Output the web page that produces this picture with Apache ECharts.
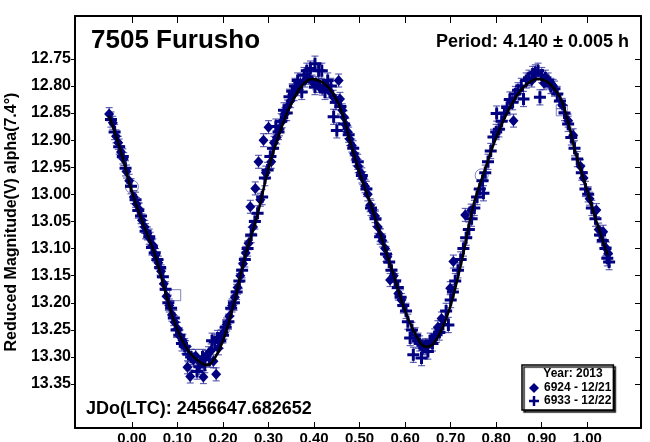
<!DOCTYPE html>
<html>
<head>
<meta charset="utf-8">
<script src="https://cdn.jsdelivr.net/npm/echarts@6/dist/echarts.min.js"></script>
<style>html,body{margin:0;padding:0;background:#fff;}#chart{width:650px;height:442px;}</style>
</head>
<body>
<div id="chart"></div>
<script>
// ---- data (phase, reduced magnitude) ----
const xTicks = [0.00, 0.10, 0.20, 0.30, 0.40, 0.50, 0.60, 0.70, 0.80, 0.90, 1.00];
const yTicks = [12.75, 12.80, 12.85, 12.90, 12.95, 13.00, 13.05, 13.10, 13.15, 13.20, 13.25, 13.30, 13.35];

const session6924 = [
  [-0.050,12.852],[-0.042,12.868],[-0.035,12.893],[-0.030,12.905],[-0.024,12.922],[-0.018,12.935],[-0.012,12.958],[-0.006,12.975],
  [0.004,13.005],[0.010,13.018],[0.016,13.028],[0.022,13.048],[0.028,13.060],[0.034,13.072],[0.040,13.082],[0.046,13.094],
  [0.052,13.112],[0.058,13.126],[0.064,13.142],[0.070,13.165],[0.076,13.188],[0.082,13.205],[0.088,13.222],[0.094,13.236],
  [0.100,13.248],[0.106,13.262],[0.112,13.270],[0.118,13.282],
  [0.122,13.319],[0.128,13.336],[0.135,13.305],[0.140,13.298],[0.157,13.337],[0.150,13.310],[0.162,13.300],[0.168,13.293],
  [0.179,13.308],[0.185,13.332],[0.174,13.288],[0.190,13.284],[0.196,13.262],
  [0.202,13.255],[0.208,13.240],[0.214,13.225],[0.220,13.205],[0.226,13.190],[0.232,13.172],[0.238,13.150],[0.244,13.128],
  [0.250,13.108],[0.256,13.090],[0.260,13.023],[0.266,13.060],[0.271,12.989],[0.278,12.940],[0.282,13.010],[0.289,12.900],
  [0.294,12.960],[0.300,12.876],[0.306,12.940],[0.312,12.905],[0.318,12.895],[0.324,12.880],[0.330,12.865],[0.336,12.852],
  [0.342,12.838],[0.348,12.828],[0.356,12.815],[0.362,12.806],[0.370,12.795],[0.380,12.790],[0.388,12.785],[0.396,12.792],
  [0.404,12.795],[0.410,12.800],[0.418,12.805],[0.426,12.800],[0.434,12.810],[0.442,12.820],[0.454,12.790],[0.457,12.824],
  [0.462,12.845],[0.466,12.858],[0.470,12.872],[0.474,12.885],[0.478,12.898],[0.483,12.910],[0.488,12.925],[0.492,12.935],
  [0.497,12.948],[0.502,12.960],[0.507,12.970],[0.512,12.985],[0.518,13.000],[0.523,13.020],[0.528,13.030],[0.534,13.040],
  [0.540,13.060],[0.545,13.075],[0.550,13.085],[0.556,13.100],[0.561,13.115],[0.567,13.158],[0.575,13.150],[0.585,13.183],
  [0.592,13.195],[0.640,13.284],[0.680,13.229],[0.672,13.245],[0.699,13.173],[0.706,13.124],[0.732,13.038],[0.745,13.030],
  [0.838,12.864],[0.878,12.790],[0.905,12.795],[0.925,12.800],[0.945,12.835],[0.958,12.864],[0.969,12.891],[0.985,12.948],
  [0.992,12.970],[1.005,13.008],[1.020,13.029],[1.025,13.065],[1.035,13.069],[1.042,13.100],[1.046,13.109]
];

const session6933 = [
  [-0.046,12.862],[-0.038,12.885],[-0.028,12.912],[-0.020,12.930],[-0.014,12.952],[-0.002,12.985],[0.008,13.010],[0.014,13.030],
  [0.020,13.040],[0.030,13.068],[0.038,13.078],[0.044,13.098],[0.050,13.108],[0.056,13.120],[0.062,13.135],[0.068,13.152],
  [0.074,13.175],[0.080,13.200],[0.086,13.210],[0.092,13.228],[0.098,13.250],[0.104,13.260],[0.110,13.275],[0.116,13.280],
  [0.124,13.295],[0.130,13.300],[0.143,13.327],[0.148,13.318],[0.155,13.300],[0.160,13.315],[0.170,13.305],[0.176,13.270],
  [0.182,13.272],[0.188,13.265],[0.194,13.270],[0.200,13.260],[0.206,13.245],[0.212,13.235],[0.218,13.210],[0.224,13.200],
  [0.230,13.180],[0.236,13.160],[0.242,13.140],[0.248,13.120],[0.254,13.100],[0.262,13.075],[0.270,13.050],[0.276,13.035],
  [0.286,13.005],[0.292,12.970],[0.298,12.955],[0.304,12.930],[0.310,12.915],[0.316,12.875],[0.322,12.885],[0.328,12.865],
  [0.334,12.845],[0.340,12.850],[0.346,12.820],[0.352,12.810],[0.358,12.800],[0.364,12.790],[0.373,12.811],[0.378,12.780],
  [0.384,12.772],[0.392,12.768],[0.402,12.759],[0.402,12.802],[0.410,12.772],[0.417,12.772],[0.424,12.811],[0.430,12.790],
  [0.437,12.800],[0.443,12.857],[0.448,12.830],[0.450,12.882],[0.458,12.838],[0.466,12.870],[0.476,12.890],[0.486,12.915],
  [0.496,12.940],[0.505,12.965],[0.515,12.990],[0.525,13.025],[0.535,13.045],[0.545,13.078],[0.558,13.110],[0.565,13.125],
  [0.570,13.140],[0.578,13.160],[0.584,13.172],[0.590,13.190],[0.596,13.205],[0.602,13.215],[0.606,13.235],[0.611,13.265],
  [0.615,13.250],[0.618,13.296],[0.622,13.260],[0.628,13.270],[0.632,13.275],[0.636,13.302],[0.645,13.280],[0.650,13.290],
  [0.655,13.270],[0.660,13.275],[0.665,13.262],[0.669,13.259],[0.675,13.255],[0.683,13.240],[0.690,13.215],[0.695,13.241],
  [0.700,13.195],[0.705,13.180],[0.710,13.160],[0.716,13.140],[0.722,13.120],[0.728,13.100],[0.734,13.080],[0.740,13.065],
  [0.746,13.045],[0.752,13.025],[0.758,13.005],[0.764,12.990],[0.770,12.975],[0.772,12.998],[0.776,12.960],[0.782,12.940],
  [0.788,12.920],[0.794,12.894],[0.800,12.885],[0.801,12.851],[0.806,12.880],[0.812,12.865],[0.818,12.850],[0.824,12.840],
  [0.830,12.825],[0.836,12.830],[0.842,12.815],[0.848,12.808],[0.855,12.800],[0.860,12.824],[0.866,12.790],[0.872,12.785],
  [0.880,12.778],[0.886,12.775],[0.892,12.772],[0.896,12.821],[0.900,12.780],[0.908,12.785],[0.914,12.790],[0.920,12.800],
  [0.928,12.805],[0.934,12.815],[0.940,12.828],[0.950,12.850],[0.958,12.870],[0.965,12.895],[0.972,12.915],[0.978,12.935],
  [0.988,12.960],[0.996,12.990],[1.002,13.000],[1.010,13.025],[1.018,13.045],[1.028,13.075],[1.034,13.085],[1.040,13.100],
  [1.044,13.118],[1.048,13.125]
];

const excludedCircles = [[0.000,12.986],[0.768,12.965]];
const excludedSquares = [[0.095,13.186],[0.944,12.845]];

const fitCurve = [
  [-0.050,12.855],[-0.025,12.919],[0.000,12.995],[0.025,13.055],[0.050,13.110],[0.075,13.185],[0.100,13.250],[0.125,13.290],
  [0.150,13.310],[0.165,13.315],[0.180,13.305],[0.200,13.270],[0.225,13.198],[0.250,13.110],[0.275,13.040],[0.300,12.952],
  [0.325,12.885],[0.350,12.832],[0.375,12.798],[0.395,12.787],[0.420,12.794],[0.440,12.812],[0.460,12.846],[0.480,12.905],
  [0.500,12.960],[0.525,13.020],[0.550,13.085],[0.575,13.150],[0.600,13.215],[0.625,13.262],[0.645,13.281],[0.660,13.277],
  [0.680,13.250],[0.700,13.205],[0.725,13.120],[0.750,13.020],[0.775,12.955],[0.800,12.895],[0.825,12.848],[0.850,12.812],
  [0.870,12.795],[0.890,12.787],[0.915,12.794],[0.940,12.821],[0.955,12.857],[0.975,12.925],[1.000,12.993],[1.020,13.050],
  [1.045,13.112]
];

const err6924 = 0.012;
const err6933 = 0.014;

const titleText = '7505 Furusho';
const periodText = 'Period: 4.140 \u00b1 0.005 h';
const jdText = 'JDo(LTC): 2456647.682652';
const yearText = 'Year: 2013';
const name6924 = '6924 - 12/21';
const name6933 = '6933 - 12/22';
const yName = 'Reduced Magnitude(V) alpha(7.4\u00b0)';

// ---- chart ----
const FONT = '"Liberation Sans", Arial, sans-serif';
const NAVY = '#000080';
const ERRC = 'rgba(20,20,140,0.65)';
const PLUS = 'path://M3.375,0H5.625V3.375H9V5.625H5.625V9H3.375V5.625H0V3.375H3.375Z';

function errSeries(data, err) {
  return {
    type: 'custom',
    silent: true,
    z: 1,
    encode: { x: 0, y: 1 },
    data: data.map(p => [p[0], p[1], err]),
    renderItem: function (params, api) {
      const x = api.value(0), y = api.value(1), e = api.value(2);
      const a = api.coord([x, y - e]);
      const b = api.coord([x, y + e]);
      const hw = 3.5;
      const st = { stroke: ERRC, lineWidth: 1.2 };
      return {
        type: 'group',
        children: [
          { type: 'line', shape: { x1: a[0], y1: a[1], x2: b[0], y2: b[1] }, style: st },
          { type: 'line', shape: { x1: a[0] - hw, y1: a[1], x2: a[0] + hw, y2: a[1] }, style: st },
          { type: 'line', shape: { x1: b[0] - hw, y1: b[1], x2: b[0] + hw, y2: b[1] }, style: st }
        ]
      };
    }
  };
}

const chart = echarts.init(document.getElementById('chart'), null, { renderer: 'canvas' });

const xMin = -0.125, xMax = 1.118, yMin = 12.671, yMax = 13.431;

const axisLineStyle = { show: true, onZero: false, lineStyle: { color: '#000', width: 2 } };

chart.setOption({
  animation: false,
  backgroundColor: '#fff',
  grid: { left: 75, top: 16, right: 9, bottom: 14, containLabel: false, outerBoundsMode: 'none' },
  xAxis: [
    {
      type: 'value', position: 'bottom', min: xMin, max: xMax,
      axisLine: axisLineStyle,
      splitLine: { show: false },
      axisTick: { show: true, inside: true, length: 6, lineStyle: { color: '#000', width: 1 }, customValues: xTicks },
      axisLabel: { show: true, margin: 3, customValues: xTicks, formatter: v => v.toFixed(2),
        fontFamily: FONT, fontWeight: 'bold', fontSize: 15, color: '#000' }
    },
    {
      type: 'value', position: 'top', min: xMin, max: xMax,
      axisLine: axisLineStyle,
      splitLine: { show: false },
      axisTick: { show: true, inside: true, length: 7, lineStyle: { color: '#000', width: 1 }, customValues: xTicks },
      axisLabel: { show: false }
    }
  ],
  yAxis: [
    {
      type: 'value', position: 'left', inverse: true, min: yMin, max: yMax,
      name: yName, nameLocation: 'middle', nameGap: 49,
      nameTextStyle: { fontFamily: FONT, fontWeight: 'bold', fontSize: 16, color: '#000' },
      axisLine: axisLineStyle,
      splitLine: { show: false },
      axisTick: { show: true, inside: false, length: 4, lineStyle: { color: '#000', width: 1 }, customValues: yTicks },
      axisLabel: { show: true, margin: 4, customValues: yTicks, formatter: v => v.toFixed(2),
        fontFamily: FONT, fontWeight: 'bold', fontSize: 16, color: '#000' }
    },
    {
      type: 'value', position: 'right', inverse: true, min: yMin, max: yMax,
      axisLine: axisLineStyle,
      splitLine: { show: false },
      axisTick: { show: true, inside: true, length: 6, lineStyle: { color: '#000', width: 1 }, customValues: yTicks },
      axisLabel: { show: false }
    }
  ],
  legend: {
    orient: 'vertical',
    left: 522, top: 365,
    padding: [16.5, 2, 2.5, 7],
    itemGap: 0,
    itemWidth: 10, itemHeight: 10,
    backgroundColor: '#fff',
    borderColor: '#000', borderWidth: 1.5,
    shadowColor: 'rgba(0,0,0,0.9)', shadowOffsetX: 2, shadowOffsetY: 2, shadowBlur: 1,
    textStyle: { fontFamily: FONT, fontWeight: 'bold', fontSize: 12, color: '#000', lineHeight: 13 },
    data: [
      { name: name6924, icon: 'diamond' },
      { name: name6933, icon: PLUS }
    ]
  },
  graphic: [
    { type: 'text', z: 100, x: 91, y: 41, style: { text: titleText, font: 'bold 26px ' + FONT, fill: '#000', align: 'left', verticalAlign: 'middle' } },
    { type: 'text', z: 100, x: 629, y: 42, style: { text: periodText, font: 'bold 18px ' + FONT, fill: '#000', align: 'right', verticalAlign: 'middle' } },
    { type: 'text', z: 100, x: 86, y: 409, style: { text: jdText, font: 'bold 18px ' + FONT, fill: '#000', align: 'left', verticalAlign: 'middle' } },
    { type: 'text', z: 100, x: 573, y: 374, style: { text: yearText, font: 'bold 12px ' + FONT, fill: '#000', align: 'center', verticalAlign: 'middle' } }
  ],
  series: [
    errSeries(session6924, err6924),
    errSeries(session6933, err6933),
    {
      name: 'excl1', type: 'scatter', z: 2, silent: true, symbol: 'circle', symbolSize: 13,
      itemStyle: { color: 'transparent', borderColor: ERRC, borderWidth: 1 },
      data: excludedCircles
    },
    {
      name: 'excl2', type: 'scatter', z: 2, silent: true, symbol: 'rect', symbolSize: 11,
      itemStyle: { color: 'transparent', borderColor: ERRC, borderWidth: 1 },
      data: excludedSquares
    },
    {
      name: name6924, type: 'scatter', z: 3, symbol: 'diamond', symbolSize: [10, 11],
      itemStyle: { color: NAVY, opacity: 1 },
      data: session6924
    },
    {
      name: name6933, type: 'scatter', z: 3, symbol: PLUS, symbolSize: 12,
      itemStyle: { color: NAVY, opacity: 1 },
      data: session6933
    },
    {
      name: 'fit', type: 'line', z: 4, smooth: 0.4, symbol: 'none', silent: true,
      lineStyle: { color: '#000', width: 2.5 },
      data: fitCurve
    }
  ]
});
</script>
</body>
</html>
